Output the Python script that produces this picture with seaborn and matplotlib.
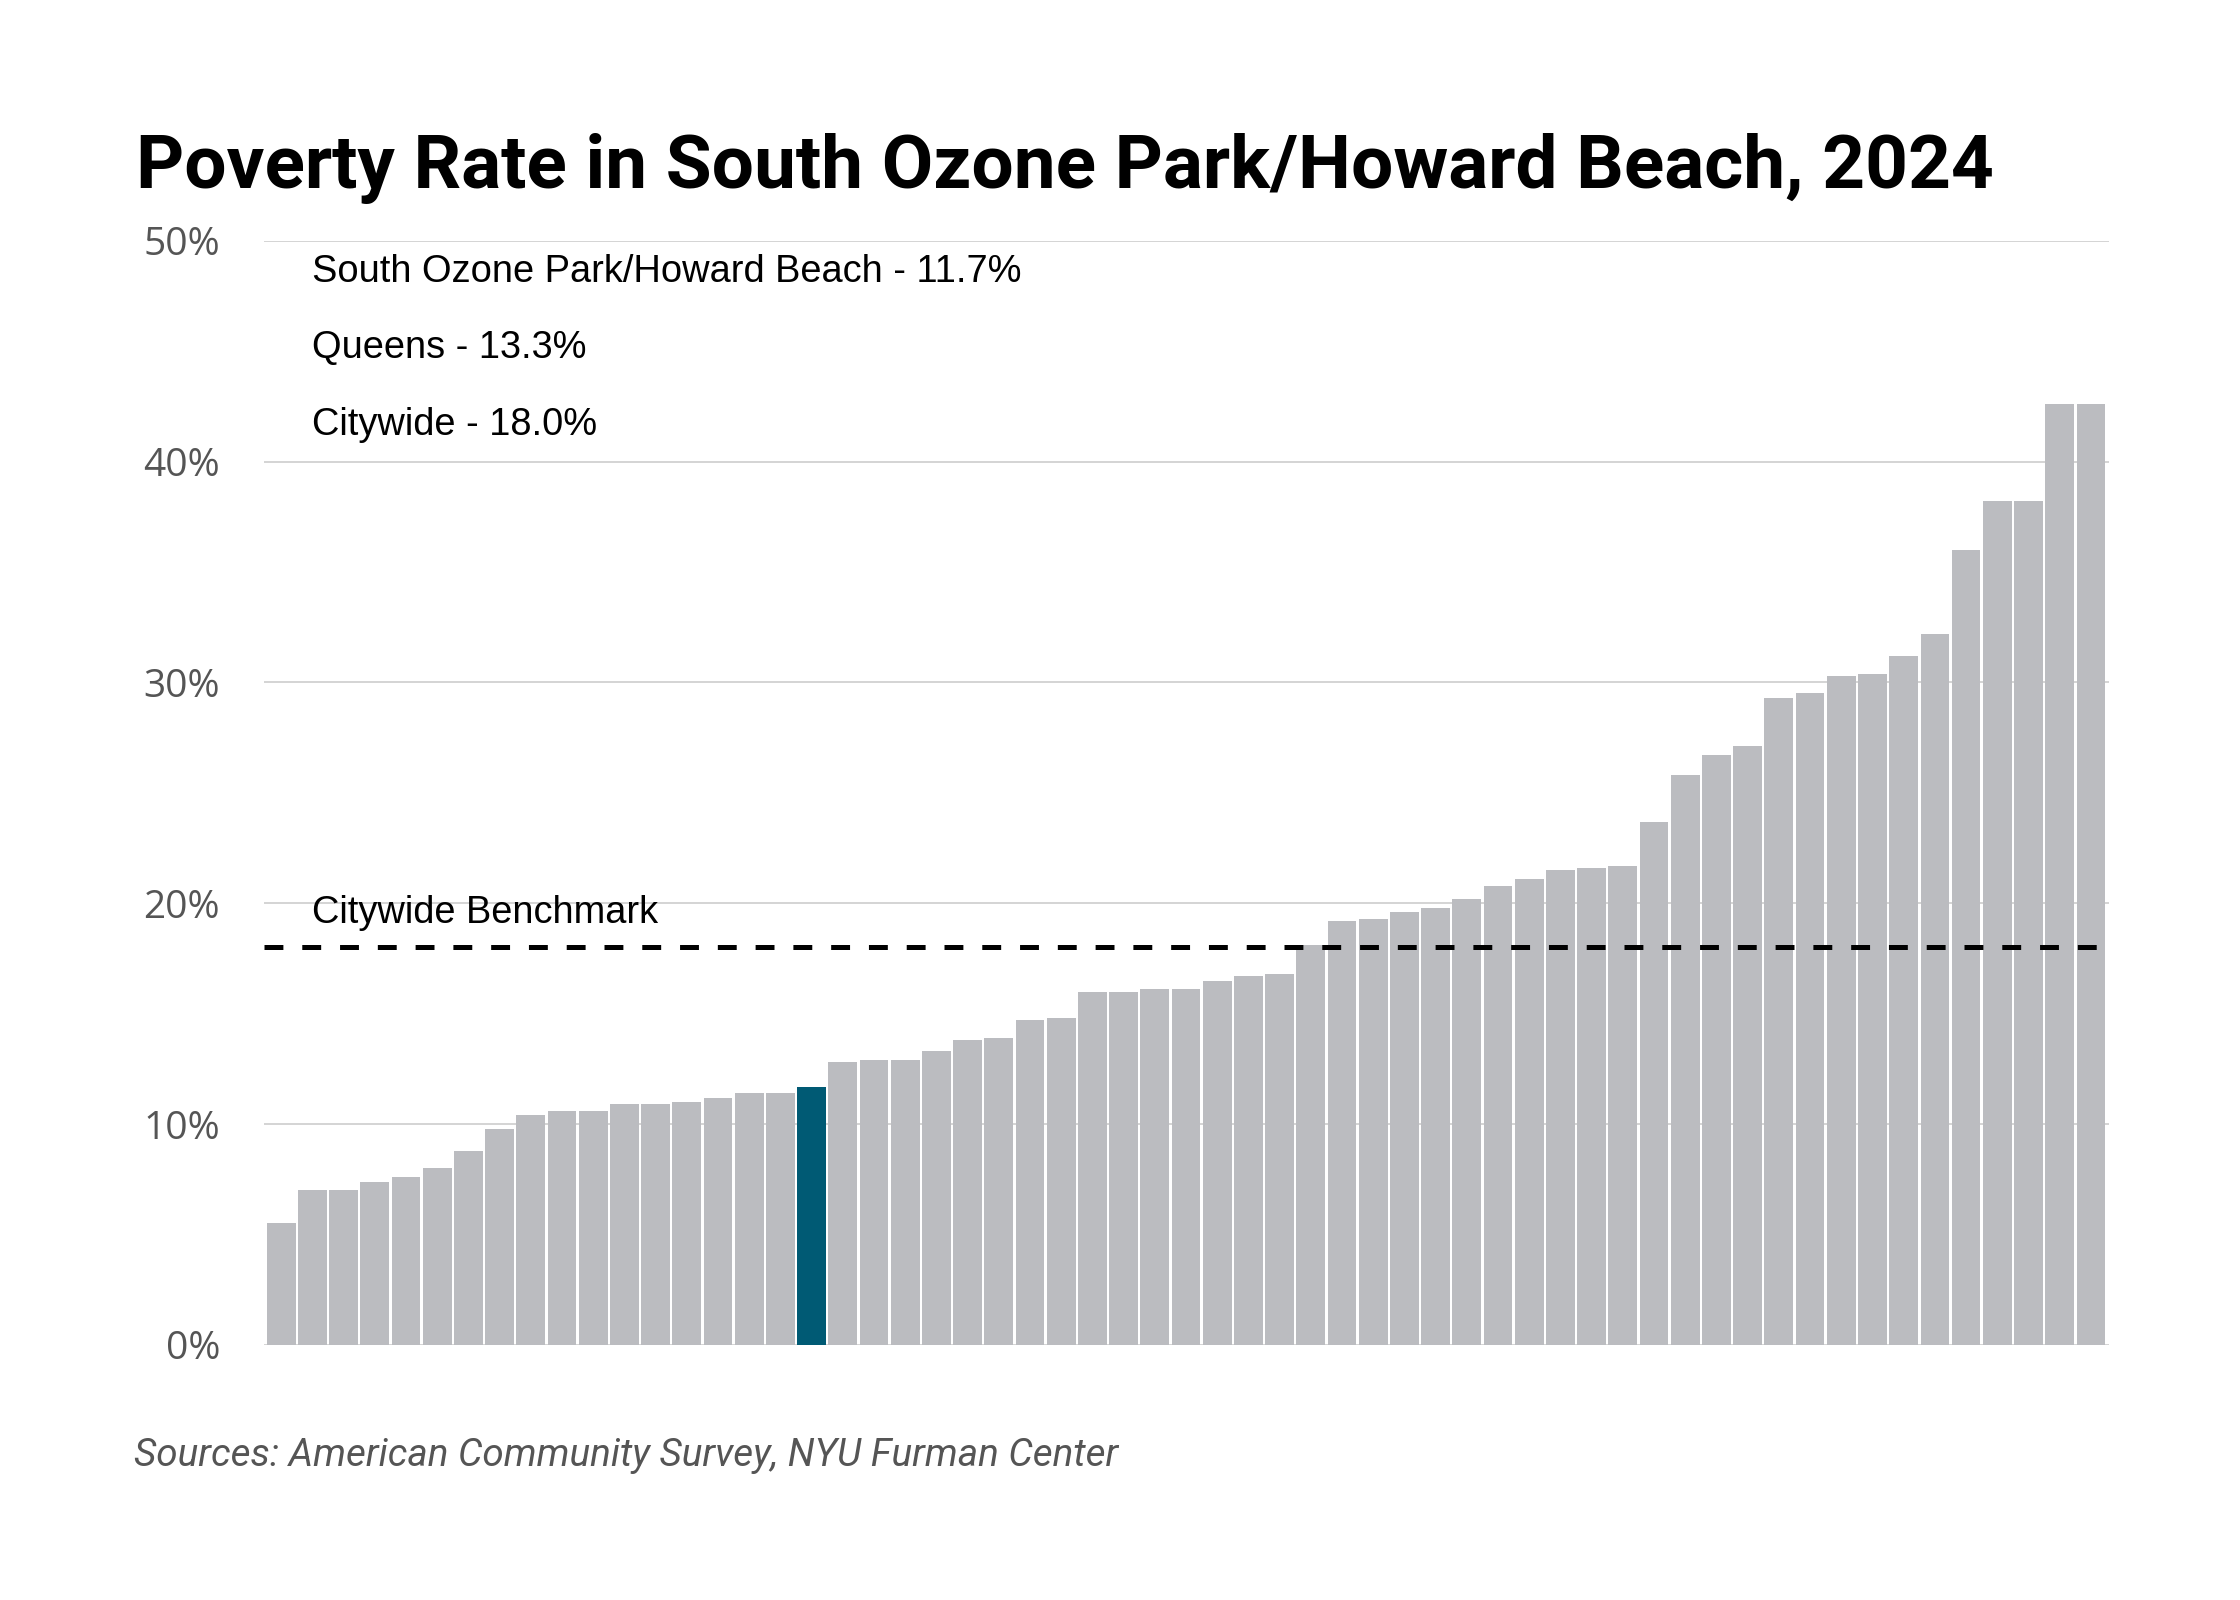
import matplotlib
matplotlib.use("Agg")
import matplotlib.pyplot as plt
import matplotlib.transforms as mtransforms
import seaborn as sns
import pandas as pd

# poverty rate (%) of every community district, sorted low to high
rates = [5.5, 7.0, 7.0, 7.4, 7.6, 8.0, 8.8, 9.8, 10.4, 10.6,
         10.6, 10.9, 10.9, 11.0, 11.2, 11.4, 11.4, 11.7, 12.8, 12.9,
         12.9, 13.3, 13.8, 13.9, 14.7, 14.8, 16.0, 16.0, 16.1, 16.1,
         16.5, 16.7, 16.8, 18.1, 19.2, 19.3, 19.6, 19.8, 20.2, 20.8,
         21.1, 21.5, 21.6, 21.7, 23.7, 25.8, 26.7, 27.1, 29.3, 29.5,
         30.3, 30.4, 31.2, 32.2, 36.0, 38.2, 38.2, 42.6, 42.6]
focus_pos = 17
district = "South Ozone Park/Howard Beach"
district_rate = 11.7
queens_rate = 13.3
city_rate = 18.0
y_ticks = [0, 10, 20, 30, 40, 50]

df = pd.DataFrame({"pos": range(len(rates)), "rate": rates})
df["group"] = ["focus" if i == focus_pos else "other" for i in df["pos"]]

sns.set_theme(style="white")
plt.rcParams["font.family"] = ["Liberation Sans", "DejaVu Sans"]
plt.rcParams["lines.scale_dashes"] = False
plt.rcParams["text.color"] = "black"

fig = plt.figure(figsize=(11.2, 8), dpi=200)
ax = fig.add_axes([0.118, 0.1594, 0.8235, 0.6902])

sns.barplot(data=df, x="pos", y="rate", hue="group",
            palette={"focus": "#005a74", "other": "#bbbcc0"},
            dodge=False, legend=False, width=0.92, saturation=1,
            linewidth=0, ax=ax, zorder=2)

ax.set_xlim(-0.54, len(rates) - 0.42)
ax.set_ylim(0, 50)
ax.set_yticks(y_ticks)
ax.set_yticklabels([f"{t}%" for t in y_ticks], family="Open Sans",
                   color="#555555", fontsize=14)
ax.tick_params(axis="y", length=0, pad=16)
ax.set_xticks([])
ax.set_xlabel("")
ax.set_ylabel("")
ax.yaxis.grid(True, color="#d4d4d4", linewidth=0.7, zorder=1)
ax.set_axisbelow(True)
for s in ax.spines.values():
    s.set_visible(False)

# citywide benchmark line
ax.axhline(city_rate, color="black", linewidth=1.8, dashes=(6.8, 6.8), zorder=3)
trans = mtransforms.blended_transform_factory(ax.transAxes, ax.transData)
ax.text(0.0256, 19.55, "Citywide Benchmark", transform=trans,
        fontsize=13.7, va="center", ha="left", color="black")

ax.text(0.0256, 0.9715, f"{district} - {district_rate:.1f}%",
        transform=ax.transAxes, fontsize=13.7, va="center", color="black")
ax.text(0.0256, 0.9028, f"Queens - {queens_rate:.1f}%",
        transform=ax.transAxes, fontsize=13.7, va="center", color="black")
ax.text(0.0256, 0.833, f"Citywide - {city_rate:.1f}%",
        transform=ax.transAxes, fontsize=13.7, va="center", color="black")

fig.text(0.0607, 0.8825, f"Poverty Rate in {district}, 2024",
         family="Roboto", fontweight="bold", fontsize=26.9,
         va="baseline", ha="left", color="black")
fig.text(0.0598, 0.0905, "Sources: American Community Survey, NYU Furman Center",
         family="Roboto", fontstyle="italic",
         fontsize=13.9, va="center", ha="left", color="#555555")

fig.savefig("out.png", dpi=200, facecolor="white")
